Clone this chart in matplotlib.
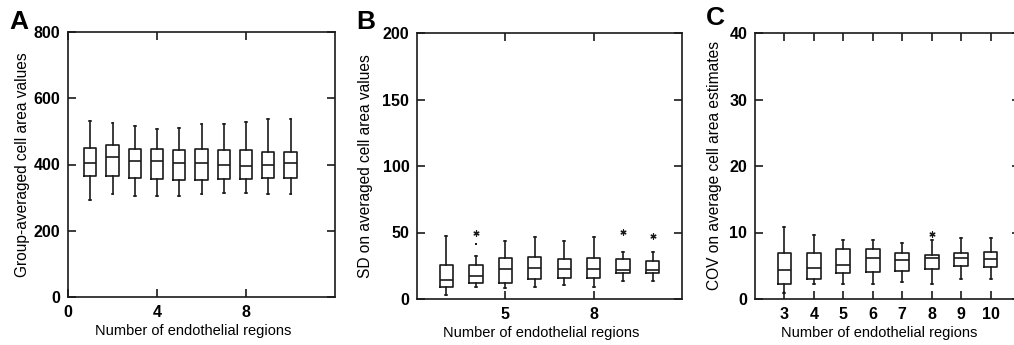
import matplotlib
matplotlib.use("Agg")
import matplotlib.pyplot as plt

plt.rcParams["font.family"] = ["Liberation Sans", "DejaVu Sans"]

# panel A: group-averaged cell area values
a_pos = [1, 2, 3, 4, 5, 6, 7, 8, 9, 10]
a_whislo = [293, 310, 306, 306, 306, 310, 313, 314, 310, 310]
a_q1 = [366, 366, 359, 355, 352, 352, 355, 355, 359, 359]
a_med = [405, 423, 410, 410, 405, 404, 399, 395, 399, 404]
a_q3 = [451, 458, 447, 447, 443, 447, 443, 444, 439, 439]
a_whishi = [531, 524, 517, 507, 509, 521, 521, 527, 537, 537]

# panel B: SD on averaged cell area values
b_pos = [3, 4, 5, 6, 7, 8, 9, 10]
b_whislo = [3.0, 8.8, 8.0, 8.8, 10.5, 8.8, 13.8, 13.8]
b_q1 = [8.8, 11.8, 12.3, 14.8, 15.8, 15.8, 19.5, 19.3]
b_med = [14.5, 17.0, 22.3, 23.0, 22.3, 22.3, 21.5, 21.8]
b_q3 = [25.3, 25.3, 30.8, 31.6, 29.8, 30.8, 30.0, 28.6]
b_whishi = [47.4, 32.6, 43.9, 46.4, 43.9, 46.4, 35.1, 35.3]
b_star_x = [4, 9, 10]
b_star_y = [49.9, 50.4, 47.4]
b_dot_x = [4]
b_dot_y = [41.4]

# panel C: COV on average cell area estimates
c_pos = [3, 4, 5, 6, 7, 8, 9, 10]
c_whislo = [0.9, 2.3, 2.3, 2.3, 2.5, 2.3, 3.0, 3.0]
c_q1 = [2.3, 3.0, 3.9, 4.1, 4.2, 4.5, 4.9, 4.8]
c_med = [4.3, 4.6, 5.1, 6.2, 5.9, 6.2, 6.2, 6.0]
c_q3 = [6.9, 6.9, 7.5, 7.5, 6.9, 6.6, 6.9, 7.0]
c_whishi = [10.8, 9.6, 8.9, 8.9, 8.4, 8.9, 9.2, 9.2]
c_star_x = [8]
c_star_y = [9.7]

INK = "#1a1a1a"
W, H = 1014, 345


def draw_boxes(ax, pos, lo, q1, med, q3, hi, width):
    stats = [
        dict(whislo=w0, q1=b0, med=m, q3=b1, whishi=w1, fliers=[])
        for w0, b0, m, b1, w1 in zip(lo, q1, med, q3, hi)
    ]
    line = dict(color=INK, linewidth=1.2)
    ax.bxp(
        stats,
        positions=pos,
        widths=width,
        capwidths=0.07,
        showfliers=False,
        boxprops=line,
        whiskerprops=line,
        capprops=line,
        medianprops=line,
        manage_ticks=False,
    )


def style_axes(ax, letter, letter_xy, ylabel, ylabel_x):
    for s in ax.spines.values():
        s.set_linewidth(1.2)
        s.set_color(INK)
    ax.tick_params(
        direction="in", length=6, width=1.2, color=INK,
        top=True, right=True, pad=5.5, labelsize=11.5,
    )
    for lab in ax.get_xticklabels() + ax.get_yticklabels():
        lab.set_fontweight("bold")
    ax.set_xlabel("Number of endothelial regions", fontsize=10.5)
    ax.xaxis.set_label_coords(0.47, -0.1)
    ax.set_ylabel(ylabel, fontsize=11.2)
    ax.yaxis.set_label_coords(ylabel_x, 0.5)
    ax.text(letter_xy[0], letter_xy[1], letter, transform=ax.transAxes,
            fontsize=19, fontweight="bold", ha="left", va="center")


fig = plt.figure(figsize=(W / 100, H / 100), dpi=100)

ax_a = fig.add_axes([68 / W, 1 - 297 / H, 267 / W, 265 / H])
draw_boxes(ax_a, a_pos, a_whislo, a_q1, a_med, a_q3, a_whishi, 0.55)
ax_a.set_xlim(0, 12)
ax_a.set_ylim(0, 800)
ax_a.set_xticks([0, 4, 8])
ax_a.set_yticks([0, 200, 400, 600, 800])
style_axes(ax_a, "A", (-0.22, 1.036), "Group-averaged cell area values", -0.142)

ax_b = fig.add_axes([417 / W, 1 - 299 / H, 265 / W, 266 / H])
draw_boxes(ax_b, b_pos, b_whislo, b_q1, b_med, b_q3, b_whishi, 0.45)
ax_b.scatter(b_star_x, b_star_y, marker=(6, 2, 0), s=14, color=INK, linewidths=0.9)
ax_b.scatter(b_dot_x, b_dot_y, marker="s", s=3, color=INK, linewidths=0)
ax_b.set_xlim(2, 11)
ax_b.set_ylim(0, 200)
ax_b.set_xticks([5, 8])
ax_b.set_yticks([0, 50, 100, 150, 200])
style_axes(ax_b, "B", (-0.23, 1.04), "SD on averaged cell area values", -0.166)

ax_c = fig.add_axes([755 / W, 1 - 299 / H, 265 / W, 266 / H])
draw_boxes(ax_c, c_pos, c_whislo, c_q1, c_med, c_q3, c_whishi, 0.47)
ax_c.scatter(c_star_x, c_star_y, marker=(6, 2, 0), s=14, color=INK, linewidths=0.9)
ax_c.set_xlim(2, 11)
ax_c.set_ylim(0, 40)
ax_c.set_xticks(c_pos)
ax_c.set_yticks([0, 10, 20, 30, 40])
style_axes(ax_c, "C", (-0.185, 1.058), "COV on average cell area estimates", -0.125)

fig.savefig("out.png", dpi=100)
